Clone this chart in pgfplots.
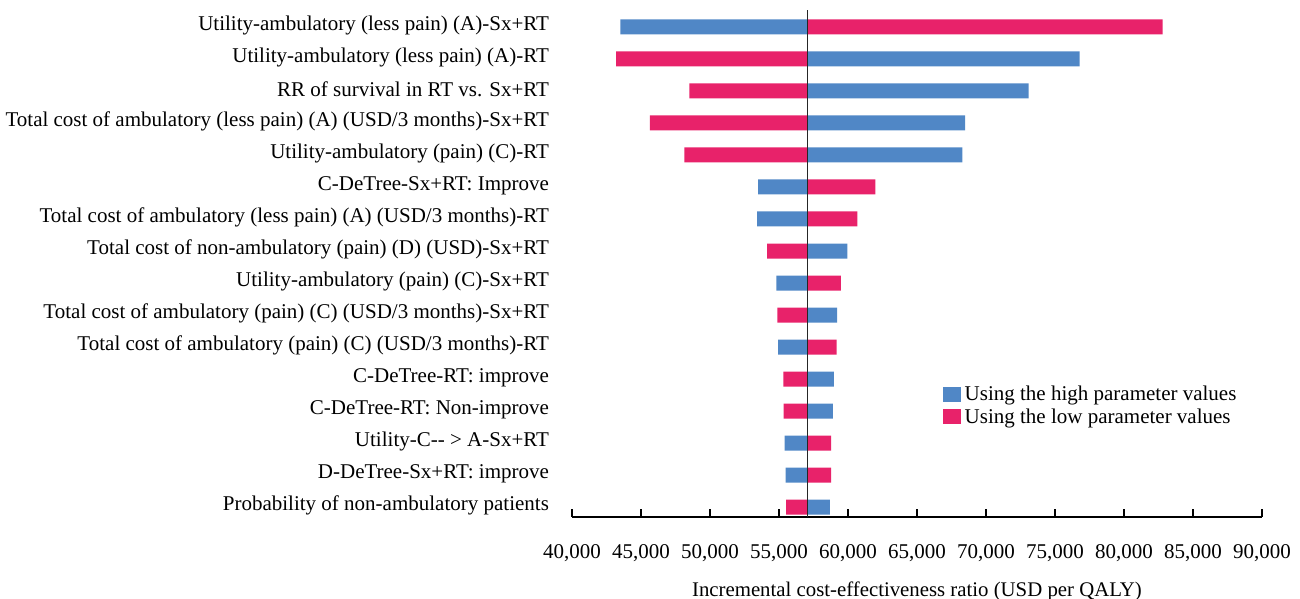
\documentclass[border=0pt]{standalone}
\usepackage{fontspec}
\setmainfont{Liberation Serif}
\usepackage{pgfplots}
\usepackage{pgfplotstable}
\pgfplotsset{compat=1.18}
\definecolor{hiblue}{RGB}{80,135,198}
\definecolor{lopink}{RGB}{232,34,106}

% row (16 = top), ICER with high parameter value, ICER with low parameter value
\pgfplotstableread{
row high low
16 43500 82800
15 76790 43200
14 73090 48500
13 68490 45640
12 68290 48140
11 53480 61980
10 53410 60680
9 59950 54140
8 54810 59480
7 59210 54880
6 54940 59180
5 58980 55310
4 58910 55340
3 55410 58780
2 55480 58780
1 58680 55510
}\tornado

\def\base{57080}

\begin{document}
\begin{tikzpicture}
\begin{axis}[
  scale only axis, width=345pt, height=253.5pt,
  xmin=-17080, xmax=32920, ymin=0.69, ymax=16.53,
  axis x line*=bottom, axis y line*=left,
  x axis line style={-, black, line width=0.6pt},
  y axis line style={draw=none},
  scaled x ticks=false,
  xtick={-17080,-12080,-7080,-2080,2920,7920,12920,17920,22920,27920,32920},
  xticklabels={{40,000},{45,000},{50,000},{55,000},{60,000},{65,000},{70,000},{75,000},{80,000},{85,000},{90,000}},
  xtick align=inside,
  major tick length=4pt,
  x tick style={black, line width=0.6pt},
  ytick={1,...,16},
  yticklabels={
    {Probability of non-ambulatory patients},
    {D-DeTree-Sx+RT: improve},
    {Utility-C-{}- > A-Sx+RT},
    {C-DeTree-RT: Non-improve},
    {C-DeTree-RT: improve},
    {Total cost of ambulatory (pain) (C) (USD/3 months)-RT},
    {Total cost of ambulatory (pain) (C) (USD/3 months)-Sx+RT},
    {Utility-ambulatory (pain) (C)-Sx+RT},
    {Total cost of non-ambulatory (pain) (D) (USD)-Sx+RT},
    {Total cost of ambulatory (less pain) (A) (USD/3 months)-RT},
    {C-DeTree-Sx+RT: Improve},
    {Utility-ambulatory (pain) (C)-RT},
    {Total cost of ambulatory (less pain) (A) (USD/3 months)-Sx+RT},
    {RR of survival in RT vs. Sx+RT},
    {Utility-ambulatory (less pain) (A)-RT},
    {Utility-ambulatory (less pain) (A)-Sx+RT}},
  y tick style={draw=none},
  tick label style={font=\fontsize{10.5}{12}\selectfont},
  /pgf/number format/assume math mode=true,
  yticklabel style={xshift=-8pt, yshift=0.8pt},
  xticklabel style={yshift=-10pt},
  xlabel={Incremental cost-effectiveness ratio (USD per QALY)},
  every axis x label/.style={at={(rel axis cs:0.5,0)}, anchor=center, yshift=-37pt, font=\fontsize{10.4}{12}\selectfont},
  legend style={at={(rel axis cs:0.528,0.275)}, anchor=north west, draw=none, fill=none,
    font=\fontsize{10.5}{12}\selectfont, row sep=-1.5pt},
  legend cell align=left,
]
\addplot[xbar, bar shift=0pt, bar width=7.5pt, fill=hiblue, draw=none,
  legend image code/.code={\fill[hiblue] (0pt,-3.5pt) rectangle (9pt,4pt);}]
  table[x expr=\thisrow{high}-\base, y=row] {\tornado};
\addplot[xbar, bar shift=0pt, bar width=7.5pt, fill=lopink, draw=none,
  legend image code/.code={\fill[lopink] (0pt,-3.5pt) rectangle (9pt,4pt);}]
  table[x expr=\thisrow{low}-\base, y=row] {\tornado};
\legend{Using the high parameter values, Using the low parameter values}
\draw[line width=0.75pt, black!85] (axis cs:0,0.69) -- (axis cs:0,16.53);
\coordinate (BL) at (rel axis cs:-0.829,-0.16);
\coordinate (TR) at (rel axis cs:1.0551,1.0197);
\end{axis}
\pgfresetboundingbox
\useasboundingbox (BL) rectangle (TR);
\end{tikzpicture}
\end{document}
